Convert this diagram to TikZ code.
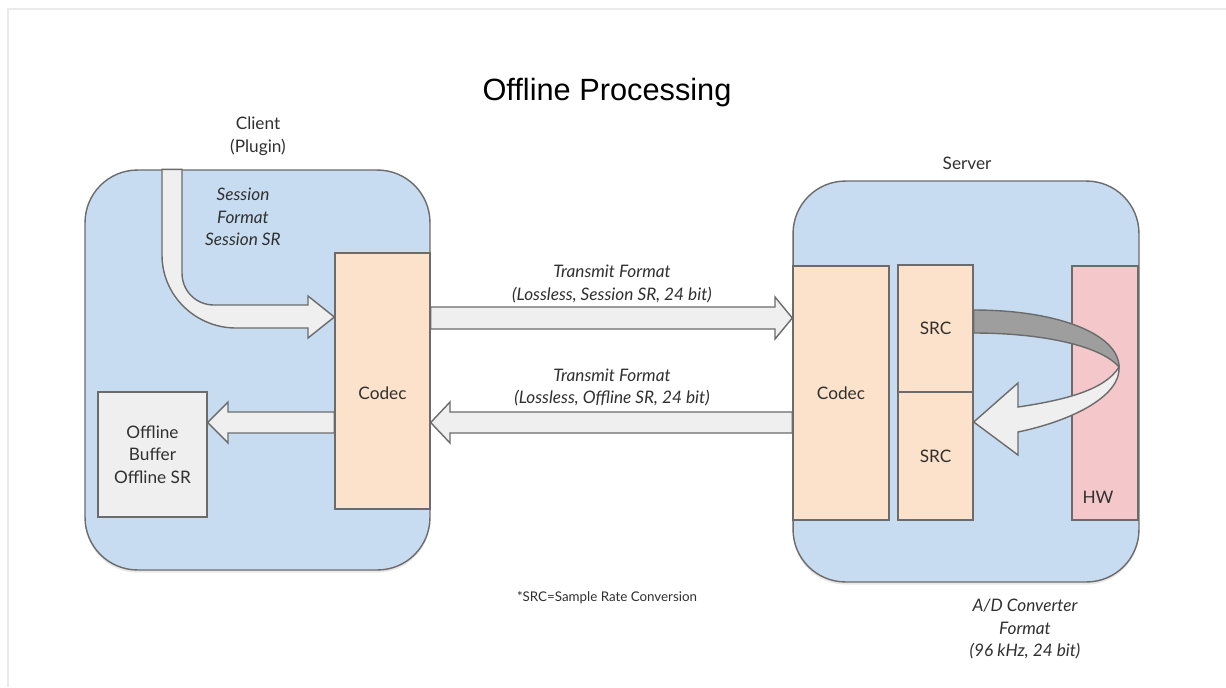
\documentclass[tikz,border=0pt]{standalone}
\usepackage{fontspec}
\setmainfont{Lato}
\newfontfamily\titlefont{Liberation Sans}
\usepackage{tikz}
\usetikzlibrary{positioning,calc,shadows}

\definecolor{panelblue}{RGB}{200,220,241}
\definecolor{codecorange}{RGB}{252,226,202}
\definecolor{hwpink}{RGB}{244,199,202}
\definecolor{arrowgray}{RGB}{239,239,239}
\definecolor{bandgray}{RGB}{158,158,158}
\definecolor{edgegray}{RGB}{107,107,107}
\definecolor{textgray}{RGB}{48,48,48}
\definecolor{framegray}{RGB}{234,234,234}
\newcommand{\lblfont}{\fontsize{9.8}{12.8}\selectfont}
\newcommand{\notefont}{\fontsize{7.6}{9}\selectfont}

\begin{document}
\begin{tikzpicture}[x=0.02cm, y=-0.02cm,
  panel/.style={draw=edgegray, line width=0.8pt, fill=panelblue, rounded corners=1.05cm, inner sep=0pt,
    drop shadow={opacity=0.18, shadow xshift=0pt, shadow yshift=-1.5pt}},
  unit/.style={draw=edgegray, line width=0.8pt, inner sep=0pt, font=\lblfont, text=textgray, align=center},
  barrow/.style={draw=edgegray, line width=0.8pt, fill=arrowgray, line join=miter},
  lbl/.style={font=\lblfont, text=textgray, align=center},
  ilbl/.style={font=\lblfont\itshape, text=textgray, align=center}]
  \fill[white] (0,0) rectangle (1226,687);
  \useasboundingbox (0,0) rectangle (1226,687);
  \draw[framegray, line width=1.2pt] (8,687) -- (8,9) -- (1226,9);

  \node[font=\titlefont\fontsize{17.5}{20}\selectfont] (title) at (607,93) {Offline Processing};

  % client side
  \node[panel, minimum width=6.9cm, minimum height=8cm] (client) at (257.5,370) {};
  \node[lbl] (clientlbl) at (258,136) {Client\\(Plugin)};
  \node[unit, fill=codecorange, minimum width=1.9cm, minimum height=5.12cm] (ccodec) at (382.5,381) {};
  \node[lbl] (ccodeclbl) at (382.5,393) {Codec};
  \node[unit, fill=arrowgray, minimum width=2.18cm, minimum height=2.5cm] (buffer) at (152.5,454.5) {Offline\\Buffer\\Offline SR};
  \node[ilbl] (sessionlbl) at (243,217) {Session\\Format\\Session SR};

  \draw[barrow] (162,0 |- client.north) -- (162,255) .. controls (162,296) and (196,328) .. (236,328)
    -- (308,328) -- (308,338) -- (ccodec.west |- 0,317) -- (308,296) -- (308,305) -- (214,305)
    .. controls (196,305) and (182,291) .. (182,273) -- (182,0 |- client.north) -- cycle;
  \draw[barrow] (ccodec.west |- 0,412) -- (228,412) -- (228,402) -- (buffer.east |- 0,422.5)
    -- (228,443) -- (228,433) -- (ccodec.west |- 0,433) -- cycle;

  % server side
  \node[panel, minimum width=6.92cm, minimum height=8.02cm] (server) at (966,381.5) {};
  \node[lbl] (serverlbl) at (967,163) {Server};
  \node[unit, fill=codecorange, minimum width=1.92cm, minimum height=5.08cm] (scodec) at (841,393) {Codec};
  \node[unit, fill=codecorange, minimum width=1.5cm, minimum height=2.54cm] (srcup) at (935.5,328.5) {SRC};
  \node[unit, fill=codecorange, minimum width=1.5cm, minimum height=2.56cm] (srclow) at (935.5,456) {SRC};
  \node[unit, fill=hwpink, minimum width=1.32cm, minimum height=5.08cm] (hw) at (1105,393) {};
  \node[lbl] (hwlbl) at (1098,497) {HW};

  % loop through the converter
  \coordinate (loopend) at (1119,367);
  \draw[barrow, fill=bandgray] (srcup.east |- 0,310) .. controls (1060,310) and (1119,335) .. (loopend)
    .. controls (1100,345) and (1040,333) .. (srcup.east |- 0,333) -- cycle;
  \draw[barrow] (loopend) .. controls (1121,395) and (1075,420) .. (1018,432) -- (1018,455)
    -- (srclow.east |- 0,422) -- (1018,383) -- (1018,407)
    .. controls (1065,400) and (1105,390) .. (loopend) -- cycle;

  % transmit paths
  \draw[barrow] (ccodec.east |- 0,307) -- (775,307) -- (775,297) -- (scodec.west |- 0,318)
    -- (775,339) -- (775,329) -- (ccodec.east |- 0,329) -- cycle;
  \draw[barrow] (scodec.west |- 0,412) -- (450,412) -- (450,402) -- (ccodec.east |- 0,422.5)
    -- (450,443) -- (450,433) -- (scodec.west |- 0,433) -- cycle;
  \node[ilbl] (uplbl) at (612,284) {Transmit Format\\(Lossless, Session SR, 24 bit)};
  \node[ilbl] (downlbl) at (612,387.5) {Transmit Format\\(Lossless, Offline SR, 24 bit)};

  \node[ilbl] (adlbl) at (1025,629) {A/D Converter\\Format\\(96 kHz, 24 bit)};
  \node[lbl, font=\notefont] (notelbl) at (607,598) {*SRC=Sample Rate Conversion};
\end{tikzpicture}
\end{document}
